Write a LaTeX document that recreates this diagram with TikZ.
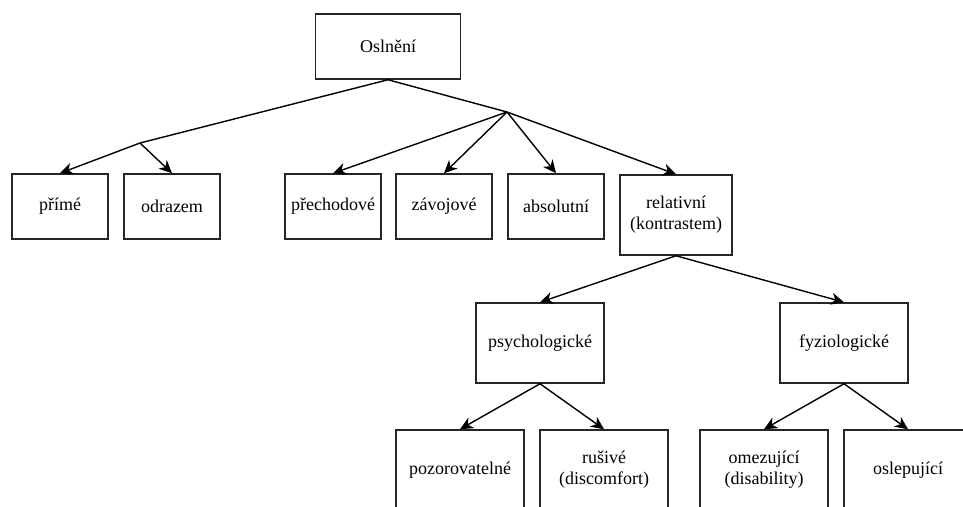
\documentclass[tikz,border=0pt]{standalone}
\usepackage{fontspec}
\setmainfont{Liberation Serif}
\usetikzlibrary{arrows.meta}
\tikzset{
  box/.style={draw=black!85, line width=1.5pt, fill=white, inner sep=0pt, align=center,
    font=\fontsize{18}{21}\selectfont},
  smallbox/.style={box, minimum width=96pt, minimum height=65pt},
  midbox/.style={box, minimum width=128pt, minimum height=80pt},
  link/.style={draw=black, line width=1.4pt},
  arr/.style={link, -{Stealth[length=13pt,width=12pt,inset=4pt]}}
}
\begin{document}
\begin{tikzpicture}[x=1pt,y=-1pt]
\useasboundingbox (0,0) rectangle (963,506);
\clip (0,0) rectangle (963,506);
% root
\node[box, minimum width=145pt, minimum height=65pt] (root) at (388,46.5) {Oslnění};
% row 1
\node[smallbox] (prime) at (60,206.5) {přímé};
\node[smallbox] (odraz) at (172,206.5) {odrazem};
\node[smallbox] (prech) at (333,206.5) {přechodové};
\node[smallbox] (zavoj) at (444,206.5) {závojové};
\node[smallbox] (absol) at (556,206.5) {absolutní};
\node[box, minimum width=112pt, minimum height=80pt] (relat) at (676,215) {relativní\\(kontrastem)};
% row 2
\node[midbox] (psych) at (540,343) {psychologické};
\node[midbox] (fyzio) at (844,343) {fyziologické};
% row 3
\node[midbox] (pozor) at (460,470) {pozorovatelné};
\node[midbox] (rusiv) at (604,470) {rušivé\\(discomfort)};
\node[midbox] (omez) at (764,470) {omezující\\(disability)};
\node[midbox] (oslep) at (908,470) {oslepující};
% branch points
\coordinate (L) at (140,143);
\coordinate (R) at (507,112);
% connectors
\draw[link] (root.south) -- (L);
\draw[link] (root.south) -- (R);
\draw[arr] (L) -- (prime.north);
\draw[arr] (L) -- (odraz.north);
\draw[arr] (R) -- (prech.north);
\draw[arr] (R) -- (zavoj.north);
\draw[arr] (R) -- (absol.north);
\draw[arr] (R) -- (relat.north);
\draw[arr] (relat.south) -- (psych.north);
\draw[arr] (relat.south) -- (fyzio.north);
\draw[arr] (psych.south) -- (pozor.north);
\draw[arr] (psych.south) -- (rusiv.north);
\draw[arr] (fyzio.south) -- (omez.north);
\draw[arr] (fyzio.south) -- (oslep.north);
\end{tikzpicture}
\end{document}
